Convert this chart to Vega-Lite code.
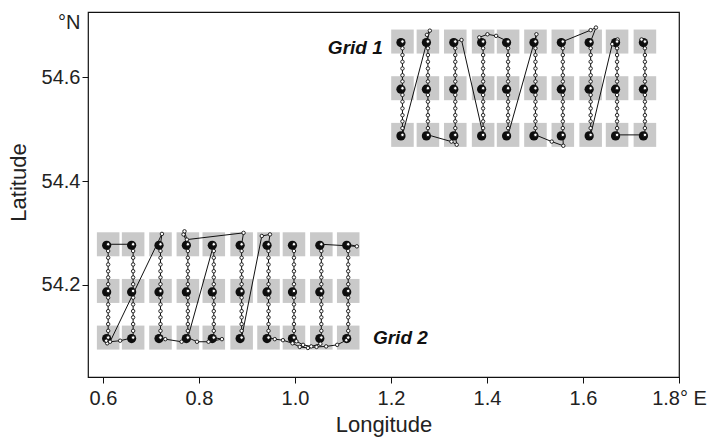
{
"$schema": "https://vega.github.io/schema/vega-lite/v6.json",
"width": 591, "height": 365,
"autosize": {"type": "none"},
"padding": {"left": 88, "top": 12, "right": 28, "bottom": 62},
"background": "white",
"config": {
  "font": "Liberation Sans",
  "view": {"stroke": "#111", "strokeWidth": 1.2},
  "axis": {"labelFont": "Liberation Sans", "titleFont": "Liberation Sans", "labelFontSize": 20, "titleFontSize": 22, "titleFontWeight": "normal", "labelColor": "#222", "titleColor": "#222", "tickColor": "#111", "tickSize": 6, "tickWidth": 1, "domain": false, "grid": false, "labelFlush": false, "labelOverlap": false}
},
"datasets": {
"stations": [
{"lon":1.224,"lat":54.669},{"lon":1.277,"lat":54.669},{"lon":1.334,"lat":54.669},{"lon":1.392,"lat":54.669},{"lon":1.444,"lat":54.669},{"lon":1.501,"lat":54.669},{"lon":1.558,"lat":54.669},{"lon":1.616,"lat":54.669},{"lon":1.671,"lat":54.669},{"lon":1.729,"lat":54.669},
{"lon":1.224,"lat":54.579},{"lon":1.277,"lat":54.579},{"lon":1.334,"lat":54.579},{"lon":1.392,"lat":54.579},{"lon":1.444,"lat":54.579},{"lon":1.501,"lat":54.579},{"lon":1.558,"lat":54.579},{"lon":1.616,"lat":54.579},{"lon":1.671,"lat":54.579},{"lon":1.729,"lat":54.579},
{"lon":1.224,"lat":54.489},{"lon":1.277,"lat":54.489},{"lon":1.334,"lat":54.489},{"lon":1.392,"lat":54.489},{"lon":1.444,"lat":54.489},{"lon":1.501,"lat":54.489},{"lon":1.558,"lat":54.489},{"lon":1.616,"lat":54.489},{"lon":1.671,"lat":54.489},{"lon":1.729,"lat":54.489},
{"lon":0.611,"lat":54.278},{"lon":0.663,"lat":54.278},{"lon":0.720,"lat":54.278},{"lon":0.777,"lat":54.278},{"lon":0.831,"lat":54.278},{"lon":0.889,"lat":54.278},{"lon":0.945,"lat":54.278},{"lon":0.998,"lat":54.278},{"lon":1.055,"lat":54.278},{"lon":1.111,"lat":54.278},
{"lon":0.611,"lat":54.188},{"lon":0.663,"lat":54.188},{"lon":0.720,"lat":54.188},{"lon":0.777,"lat":54.188},{"lon":0.831,"lat":54.188},{"lon":0.889,"lat":54.188},{"lon":0.945,"lat":54.188},{"lon":0.998,"lat":54.188},{"lon":1.055,"lat":54.188},{"lon":1.111,"lat":54.188},
{"lon":0.611,"lat":54.098},{"lon":0.663,"lat":54.098},{"lon":0.720,"lat":54.098},{"lon":0.777,"lat":54.098},{"lon":0.831,"lat":54.098},{"lon":0.889,"lat":54.098},{"lon":0.945,"lat":54.098},{"lon":0.998,"lat":54.098},{"lon":1.055,"lat":54.098},{"lon":1.111,"lat":54.098}
],
"track": [
{"g":1,"i":1,"lon":1.224,"lat":54.669},{"g":1,"i":2,"lon":1.224,"lat":54.656},{"g":1,"i":3,"lon":1.224,"lat":54.643},{"g":1,"i":4,"lon":1.224,"lat":54.630},{"g":1,"i":5,"lon":1.224,"lat":54.617},{"g":1,"i":6,"lon":1.224,"lat":54.604},{"g":1,"i":7,"lon":1.224,"lat":54.592},{"g":1,"i":8,"lon":1.224,"lat":54.579},{"g":1,"i":9,"lon":1.224,"lat":54.566},{"g":1,"i":10,"lon":1.224,"lat":54.553},{"g":1,"i":11,"lon":1.224,"lat":54.540},{"g":1,"i":12,"lon":1.224,"lat":54.527},{"g":1,"i":13,"lon":1.224,"lat":54.515},{"g":1,"i":14,"lon":1.224,"lat":54.502},{"g":1,"i":15,"lon":1.224,"lat":54.489},
{"g":1,"i":16,"lon":1.281,"lat":54.690},{"g":1,"i":17,"lon":1.275,"lat":54.682},
{"g":1,"i":18,"lon":1.277,"lat":54.669},{"g":1,"i":19,"lon":1.277,"lat":54.656},{"g":1,"i":20,"lon":1.277,"lat":54.643},{"g":1,"i":21,"lon":1.277,"lat":54.630},{"g":1,"i":22,"lon":1.277,"lat":54.617},{"g":1,"i":23,"lon":1.277,"lat":54.604},{"g":1,"i":24,"lon":1.277,"lat":54.592},{"g":1,"i":25,"lon":1.277,"lat":54.579},{"g":1,"i":26,"lon":1.277,"lat":54.566},{"g":1,"i":27,"lon":1.277,"lat":54.553},{"g":1,"i":28,"lon":1.277,"lat":54.540},{"g":1,"i":29,"lon":1.277,"lat":54.527},{"g":1,"i":30,"lon":1.277,"lat":54.515},{"g":1,"i":31,"lon":1.277,"lat":54.502},{"g":1,"i":32,"lon":1.277,"lat":54.489},
{"g":1,"i":33,"lon":1.326,"lat":54.476},{"g":1,"i":34,"lon":1.337,"lat":54.470},
{"g":1,"i":35,"lon":1.334,"lat":54.489},{"g":1,"i":36,"lon":1.334,"lat":54.502},{"g":1,"i":37,"lon":1.334,"lat":54.515},{"g":1,"i":38,"lon":1.334,"lat":54.527},{"g":1,"i":39,"lon":1.334,"lat":54.540},{"g":1,"i":40,"lon":1.334,"lat":54.553},{"g":1,"i":41,"lon":1.334,"lat":54.566},{"g":1,"i":42,"lon":1.334,"lat":54.579},{"g":1,"i":43,"lon":1.334,"lat":54.592},{"g":1,"i":44,"lon":1.334,"lat":54.604},{"g":1,"i":45,"lon":1.334,"lat":54.617},{"g":1,"i":46,"lon":1.334,"lat":54.630},{"g":1,"i":47,"lon":1.334,"lat":54.643},{"g":1,"i":48,"lon":1.334,"lat":54.656},{"g":1,"i":49,"lon":1.334,"lat":54.669},
{"g":1,"i":50,"lon":1.347,"lat":54.672},
{"g":1,"i":51,"lon":1.392,"lat":54.489},{"g":1,"i":52,"lon":1.392,"lat":54.502},{"g":1,"i":53,"lon":1.392,"lat":54.515},{"g":1,"i":54,"lon":1.392,"lat":54.527},{"g":1,"i":55,"lon":1.392,"lat":54.540},{"g":1,"i":56,"lon":1.392,"lat":54.553},{"g":1,"i":57,"lon":1.392,"lat":54.566},{"g":1,"i":58,"lon":1.392,"lat":54.579},{"g":1,"i":59,"lon":1.392,"lat":54.592},{"g":1,"i":60,"lon":1.392,"lat":54.604},{"g":1,"i":61,"lon":1.392,"lat":54.617},{"g":1,"i":62,"lon":1.392,"lat":54.630},{"g":1,"i":63,"lon":1.392,"lat":54.643},{"g":1,"i":64,"lon":1.392,"lat":54.656},{"g":1,"i":65,"lon":1.392,"lat":54.669},
{"g":1,"i":66,"lon":1.384,"lat":54.677},{"g":1,"i":67,"lon":1.401,"lat":54.683},{"g":1,"i":68,"lon":1.419,"lat":54.680},
{"g":1,"i":69,"lon":1.444,"lat":54.669},{"g":1,"i":70,"lon":1.444,"lat":54.656},{"g":1,"i":71,"lon":1.444,"lat":54.643},{"g":1,"i":72,"lon":1.444,"lat":54.630},{"g":1,"i":73,"lon":1.444,"lat":54.617},{"g":1,"i":74,"lon":1.444,"lat":54.604},{"g":1,"i":75,"lon":1.444,"lat":54.592},{"g":1,"i":76,"lon":1.444,"lat":54.579},{"g":1,"i":77,"lon":1.444,"lat":54.566},{"g":1,"i":78,"lon":1.444,"lat":54.553},{"g":1,"i":79,"lon":1.444,"lat":54.540},{"g":1,"i":80,"lon":1.444,"lat":54.527},{"g":1,"i":81,"lon":1.444,"lat":54.515},{"g":1,"i":82,"lon":1.444,"lat":54.502},{"g":1,"i":83,"lon":1.444,"lat":54.489},
{"g":1,"i":84,"lon":1.503,"lat":54.683},
{"g":1,"i":85,"lon":1.501,"lat":54.669},{"g":1,"i":86,"lon":1.501,"lat":54.656},{"g":1,"i":87,"lon":1.501,"lat":54.643},{"g":1,"i":88,"lon":1.501,"lat":54.630},{"g":1,"i":89,"lon":1.501,"lat":54.617},{"g":1,"i":90,"lon":1.501,"lat":54.604},{"g":1,"i":91,"lon":1.501,"lat":54.592},{"g":1,"i":92,"lon":1.501,"lat":54.579},{"g":1,"i":93,"lon":1.501,"lat":54.566},{"g":1,"i":94,"lon":1.501,"lat":54.553},{"g":1,"i":95,"lon":1.501,"lat":54.540},{"g":1,"i":96,"lon":1.501,"lat":54.527},{"g":1,"i":97,"lon":1.501,"lat":54.515},{"g":1,"i":98,"lon":1.501,"lat":54.502},{"g":1,"i":99,"lon":1.501,"lat":54.489},
{"g":1,"i":100,"lon":1.535,"lat":54.476},{"g":1,"i":101,"lon":1.559,"lat":54.468},
{"g":1,"i":102,"lon":1.558,"lat":54.489},{"g":1,"i":103,"lon":1.558,"lat":54.502},{"g":1,"i":104,"lon":1.558,"lat":54.515},{"g":1,"i":105,"lon":1.558,"lat":54.527},{"g":1,"i":106,"lon":1.558,"lat":54.540},{"g":1,"i":107,"lon":1.558,"lat":54.553},{"g":1,"i":108,"lon":1.558,"lat":54.566},{"g":1,"i":109,"lon":1.558,"lat":54.579},{"g":1,"i":110,"lon":1.558,"lat":54.592},{"g":1,"i":111,"lon":1.558,"lat":54.604},{"g":1,"i":112,"lon":1.558,"lat":54.617},{"g":1,"i":113,"lon":1.558,"lat":54.630},{"g":1,"i":114,"lon":1.558,"lat":54.643},{"g":1,"i":115,"lon":1.558,"lat":54.656},{"g":1,"i":116,"lon":1.558,"lat":54.669},
{"g":1,"i":117,"lon":1.616,"lat":54.691},{"g":1,"i":118,"lon":1.627,"lat":54.696},
{"g":1,"i":119,"lon":1.616,"lat":54.669},{"g":1,"i":120,"lon":1.616,"lat":54.656},{"g":1,"i":121,"lon":1.616,"lat":54.643},{"g":1,"i":122,"lon":1.616,"lat":54.630},{"g":1,"i":123,"lon":1.616,"lat":54.617},{"g":1,"i":124,"lon":1.616,"lat":54.604},{"g":1,"i":125,"lon":1.616,"lat":54.592},{"g":1,"i":126,"lon":1.616,"lat":54.579},{"g":1,"i":127,"lon":1.616,"lat":54.566},{"g":1,"i":128,"lon":1.616,"lat":54.553},{"g":1,"i":129,"lon":1.616,"lat":54.540},{"g":1,"i":130,"lon":1.616,"lat":54.527},{"g":1,"i":131,"lon":1.616,"lat":54.515},{"g":1,"i":132,"lon":1.616,"lat":54.502},{"g":1,"i":133,"lon":1.616,"lat":54.489},
{"g":1,"i":134,"lon":1.661,"lat":54.664},{"g":1,"i":135,"lon":1.672,"lat":54.673},
{"g":1,"i":136,"lon":1.671,"lat":54.669},{"g":1,"i":137,"lon":1.671,"lat":54.656},{"g":1,"i":138,"lon":1.671,"lat":54.643},{"g":1,"i":139,"lon":1.671,"lat":54.630},{"g":1,"i":140,"lon":1.671,"lat":54.617},{"g":1,"i":141,"lon":1.671,"lat":54.604},{"g":1,"i":142,"lon":1.671,"lat":54.592},{"g":1,"i":143,"lon":1.671,"lat":54.579},{"g":1,"i":144,"lon":1.671,"lat":54.566},{"g":1,"i":145,"lon":1.671,"lat":54.553},{"g":1,"i":146,"lon":1.671,"lat":54.540},{"g":1,"i":147,"lon":1.671,"lat":54.527},{"g":1,"i":148,"lon":1.671,"lat":54.515},{"g":1,"i":149,"lon":1.671,"lat":54.502},{"g":1,"i":150,"lon":1.671,"lat":54.489},
{"g":1,"i":151,"lon":1.729,"lat":54.489},{"g":1,"i":152,"lon":1.729,"lat":54.502},{"g":1,"i":153,"lon":1.729,"lat":54.515},{"g":1,"i":154,"lon":1.729,"lat":54.527},{"g":1,"i":155,"lon":1.729,"lat":54.540},{"g":1,"i":156,"lon":1.729,"lat":54.553},{"g":1,"i":157,"lon":1.729,"lat":54.566},{"g":1,"i":158,"lon":1.729,"lat":54.579},{"g":1,"i":159,"lon":1.729,"lat":54.592},{"g":1,"i":160,"lon":1.729,"lat":54.604},{"g":1,"i":161,"lon":1.729,"lat":54.617},{"g":1,"i":162,"lon":1.729,"lat":54.630},{"g":1,"i":163,"lon":1.729,"lat":54.643},{"g":1,"i":164,"lon":1.729,"lat":54.656},{"g":1,"i":165,"lon":1.729,"lat":54.669},
{"g":1,"i":166,"lon":1.722,"lat":54.673},
{"g":2,"i":1,"lon":0.609,"lat":54.087},{"g":2,"i":2,"lon":0.607,"lat":54.092},
{"g":2,"i":3,"lon":0.611,"lat":54.098},{"g":2,"i":4,"lon":0.611,"lat":54.111},{"g":2,"i":5,"lon":0.611,"lat":54.124},{"g":2,"i":6,"lon":0.611,"lat":54.137},{"g":2,"i":7,"lon":0.611,"lat":54.149},{"g":2,"i":8,"lon":0.611,"lat":54.162},{"g":2,"i":9,"lon":0.611,"lat":54.175},{"g":2,"i":10,"lon":0.611,"lat":54.188},{"g":2,"i":11,"lon":0.611,"lat":54.201},{"g":2,"i":12,"lon":0.611,"lat":54.214},{"g":2,"i":13,"lon":0.611,"lat":54.226},{"g":2,"i":14,"lon":0.611,"lat":54.239},{"g":2,"i":15,"lon":0.611,"lat":54.252},{"g":2,"i":16,"lon":0.611,"lat":54.265},{"g":2,"i":17,"lon":0.611,"lat":54.278},
{"g":2,"i":18,"lon":0.663,"lat":54.278},{"g":2,"i":19,"lon":0.663,"lat":54.265},{"g":2,"i":20,"lon":0.663,"lat":54.252},{"g":2,"i":21,"lon":0.663,"lat":54.239},{"g":2,"i":22,"lon":0.663,"lat":54.226},{"g":2,"i":23,"lon":0.663,"lat":54.214},{"g":2,"i":24,"lon":0.663,"lat":54.201},{"g":2,"i":25,"lon":0.663,"lat":54.188},{"g":2,"i":26,"lon":0.663,"lat":54.175},{"g":2,"i":27,"lon":0.663,"lat":54.162},{"g":2,"i":28,"lon":0.663,"lat":54.149},{"g":2,"i":29,"lon":0.663,"lat":54.137},{"g":2,"i":30,"lon":0.663,"lat":54.124},{"g":2,"i":31,"lon":0.663,"lat":54.111},{"g":2,"i":32,"lon":0.663,"lat":54.098},
{"g":2,"i":33,"lon":0.636,"lat":54.092},{"g":2,"i":34,"lon":0.615,"lat":54.090},{"g":2,"i":35,"lon":0.723,"lat":54.298},
{"g":2,"i":36,"lon":0.720,"lat":54.278},{"g":2,"i":37,"lon":0.720,"lat":54.265},{"g":2,"i":38,"lon":0.720,"lat":54.252},{"g":2,"i":39,"lon":0.720,"lat":54.239},{"g":2,"i":40,"lon":0.720,"lat":54.226},{"g":2,"i":41,"lon":0.720,"lat":54.214},{"g":2,"i":42,"lon":0.720,"lat":54.201},{"g":2,"i":43,"lon":0.720,"lat":54.188},{"g":2,"i":44,"lon":0.720,"lat":54.175},{"g":2,"i":45,"lon":0.720,"lat":54.162},{"g":2,"i":46,"lon":0.720,"lat":54.149},{"g":2,"i":47,"lon":0.720,"lat":54.137},{"g":2,"i":48,"lon":0.720,"lat":54.124},{"g":2,"i":49,"lon":0.720,"lat":54.111},{"g":2,"i":50,"lon":0.720,"lat":54.098},
{"g":2,"i":51,"lon":0.730,"lat":54.095},{"g":2,"i":52,"lon":0.764,"lat":54.090},{"g":2,"i":53,"lon":0.777,"lat":54.098},{"g":2,"i":54,"lon":0.796,"lat":54.090},{"g":2,"i":55,"lon":0.820,"lat":54.090},{"g":2,"i":56,"lon":0.848,"lat":54.095},
{"g":2,"i":57,"lon":0.831,"lat":54.098},{"g":2,"i":58,"lon":0.831,"lat":54.111},{"g":2,"i":59,"lon":0.831,"lat":54.124},{"g":2,"i":60,"lon":0.831,"lat":54.137},{"g":2,"i":61,"lon":0.831,"lat":54.149},{"g":2,"i":62,"lon":0.831,"lat":54.162},{"g":2,"i":63,"lon":0.831,"lat":54.175},{"g":2,"i":64,"lon":0.831,"lat":54.188},{"g":2,"i":65,"lon":0.831,"lat":54.201},{"g":2,"i":66,"lon":0.831,"lat":54.214},{"g":2,"i":67,"lon":0.831,"lat":54.226},{"g":2,"i":68,"lon":0.831,"lat":54.239},{"g":2,"i":69,"lon":0.831,"lat":54.252},{"g":2,"i":70,"lon":0.831,"lat":54.265},{"g":2,"i":71,"lon":0.831,"lat":54.278},
{"g":2,"i":72,"lon":0.777,"lat":54.098},{"g":2,"i":73,"lon":0.777,"lat":54.111},{"g":2,"i":74,"lon":0.777,"lat":54.124},{"g":2,"i":75,"lon":0.777,"lat":54.137},{"g":2,"i":76,"lon":0.777,"lat":54.149},{"g":2,"i":77,"lon":0.777,"lat":54.162},{"g":2,"i":78,"lon":0.777,"lat":54.175},{"g":2,"i":79,"lon":0.777,"lat":54.188},{"g":2,"i":80,"lon":0.777,"lat":54.201},{"g":2,"i":81,"lon":0.777,"lat":54.214},{"g":2,"i":82,"lon":0.777,"lat":54.226},{"g":2,"i":83,"lon":0.777,"lat":54.239},{"g":2,"i":84,"lon":0.777,"lat":54.252},{"g":2,"i":85,"lon":0.777,"lat":54.265},{"g":2,"i":86,"lon":0.777,"lat":54.278},
{"g":2,"i":87,"lon":0.768,"lat":54.297},{"g":2,"i":88,"lon":0.770,"lat":54.303},{"g":2,"i":89,"lon":0.775,"lat":54.287},{"g":2,"i":90,"lon":0.893,"lat":54.300},
{"g":2,"i":91,"lon":0.889,"lat":54.278},{"g":2,"i":92,"lon":0.889,"lat":54.265},{"g":2,"i":93,"lon":0.889,"lat":54.252},{"g":2,"i":94,"lon":0.889,"lat":54.239},{"g":2,"i":95,"lon":0.889,"lat":54.226},{"g":2,"i":96,"lon":0.889,"lat":54.214},{"g":2,"i":97,"lon":0.889,"lat":54.201},{"g":2,"i":98,"lon":0.889,"lat":54.188},{"g":2,"i":99,"lon":0.889,"lat":54.175},{"g":2,"i":100,"lon":0.889,"lat":54.162},{"g":2,"i":101,"lon":0.889,"lat":54.149},{"g":2,"i":102,"lon":0.889,"lat":54.137},{"g":2,"i":103,"lon":0.889,"lat":54.124},{"g":2,"i":104,"lon":0.889,"lat":54.111},{"g":2,"i":105,"lon":0.889,"lat":54.098},
{"g":2,"i":106,"lon":0.931,"lat":54.294},{"g":2,"i":107,"lon":0.948,"lat":54.297},
{"g":2,"i":108,"lon":0.945,"lat":54.278},{"g":2,"i":109,"lon":0.945,"lat":54.265},{"g":2,"i":110,"lon":0.945,"lat":54.252},{"g":2,"i":111,"lon":0.945,"lat":54.239},{"g":2,"i":112,"lon":0.945,"lat":54.226},{"g":2,"i":113,"lon":0.945,"lat":54.214},{"g":2,"i":114,"lon":0.945,"lat":54.201},{"g":2,"i":115,"lon":0.945,"lat":54.188},{"g":2,"i":116,"lon":0.945,"lat":54.175},{"g":2,"i":117,"lon":0.945,"lat":54.162},{"g":2,"i":118,"lon":0.945,"lat":54.149},{"g":2,"i":119,"lon":0.945,"lat":54.137},{"g":2,"i":120,"lon":0.945,"lat":54.124},{"g":2,"i":121,"lon":0.945,"lat":54.111},{"g":2,"i":122,"lon":0.945,"lat":54.098},
{"g":2,"i":123,"lon":0.958,"lat":54.095},{"g":2,"i":124,"lon":0.975,"lat":54.093},{"g":2,"i":125,"lon":0.995,"lat":54.087},{"g":2,"i":126,"lon":1.010,"lat":54.080},{"g":2,"i":127,"lon":1.027,"lat":54.078},{"g":2,"i":128,"lon":1.045,"lat":54.080},{"g":2,"i":129,"lon":1.065,"lat":54.081},{"g":2,"i":130,"lon":1.088,"lat":54.084},{"g":2,"i":131,"lon":1.107,"lat":54.093},
{"g":2,"i":132,"lon":1.111,"lat":54.098},{"g":2,"i":133,"lon":1.111,"lat":54.111},{"g":2,"i":134,"lon":1.111,"lat":54.124},{"g":2,"i":135,"lon":1.111,"lat":54.137},{"g":2,"i":136,"lon":1.111,"lat":54.149},{"g":2,"i":137,"lon":1.111,"lat":54.162},{"g":2,"i":138,"lon":1.111,"lat":54.175},{"g":2,"i":139,"lon":1.111,"lat":54.188},{"g":2,"i":140,"lon":1.111,"lat":54.201},{"g":2,"i":141,"lon":1.111,"lat":54.214},{"g":2,"i":142,"lon":1.111,"lat":54.226},{"g":2,"i":143,"lon":1.111,"lat":54.239},{"g":2,"i":144,"lon":1.111,"lat":54.252},{"g":2,"i":145,"lon":1.111,"lat":54.265},{"g":2,"i":146,"lon":1.111,"lat":54.278},
{"g":2,"i":147,"lon":1.129,"lat":54.274},
{"g":2,"i":148,"lon":1.055,"lat":54.278},{"g":2,"i":149,"lon":1.055,"lat":54.265},{"g":2,"i":150,"lon":1.055,"lat":54.252},{"g":2,"i":151,"lon":1.055,"lat":54.239},{"g":2,"i":152,"lon":1.055,"lat":54.226},{"g":2,"i":153,"lon":1.055,"lat":54.214},{"g":2,"i":154,"lon":1.055,"lat":54.201},{"g":2,"i":155,"lon":1.055,"lat":54.188},{"g":2,"i":156,"lon":1.055,"lat":54.175},{"g":2,"i":157,"lon":1.055,"lat":54.162},{"g":2,"i":158,"lon":1.055,"lat":54.149},{"g":2,"i":159,"lon":1.055,"lat":54.137},{"g":2,"i":160,"lon":1.055,"lat":54.124},{"g":2,"i":161,"lon":1.055,"lat":54.111},{"g":2,"i":162,"lon":1.055,"lat":54.098},
{"g":2,"i":163,"lon":1.053,"lat":54.086},{"g":2,"i":164,"lon":1.034,"lat":54.081},{"g":2,"i":165,"lon":1.017,"lat":54.084},{"g":2,"i":166,"lon":1.003,"lat":54.091},
{"g":2,"i":167,"lon":0.998,"lat":54.098},{"g":2,"i":168,"lon":0.998,"lat":54.111},{"g":2,"i":169,"lon":0.998,"lat":54.124},{"g":2,"i":170,"lon":0.998,"lat":54.137},{"g":2,"i":171,"lon":0.998,"lat":54.149},{"g":2,"i":172,"lon":0.998,"lat":54.162},{"g":2,"i":173,"lon":0.998,"lat":54.175},{"g":2,"i":174,"lon":0.998,"lat":54.188},{"g":2,"i":175,"lon":0.998,"lat":54.201},{"g":2,"i":176,"lon":0.998,"lat":54.214},{"g":2,"i":177,"lon":0.998,"lat":54.226},{"g":2,"i":178,"lon":0.998,"lat":54.239},{"g":2,"i":179,"lon":0.998,"lat":54.252},{"g":2,"i":180,"lon":0.998,"lat":54.265},{"g":2,"i":181,"lon":0.998,"lat":54.278}
]
},
"encoding": {
  "x": {"field": "lon", "type": "quantitative", "scale": {"domain": [0.569, 1.8], "nice": false, "zero": false},
        "axis": {"title": "Longitude", "values": [0.6, 0.8, 1.0, 1.2, 1.4, 1.6, 1.8], "labelExpr": "datum.value > 1.75 ? '1.8° E' : format(datum.value, '.1f')", "labelPadding": 5, "titlePadding": 6}},
  "y": {"field": "lat", "type": "quantitative", "scale": {"domain": [54.022, 54.726], "nice": false, "zero": false},
        "axis": {"title": "Latitude", "values": [54.2, 54.4, 54.6, 54.706], "labelExpr": "datum.value > 54.65 ? '°N' : format(datum.value, '.1f')", "labelPadding": 2, "titlePadding": 11, "titleY": 170,
                 "tickOpacity": {"condition": {"test": "datum.value > 54.65", "value": 0}, "value": 1}}}
},
"layer": [
  {"data": {"name": "stations"}, "mark": {"type": "point", "shape": "M-0.94,-1H0.94V1H-0.94Z", "filled": true, "size": 576, "color": "#c9c9c9", "opacity": 1, "strokeWidth": 0}},
  {"data": {"name": "stations"}, "mark": {"type": "circle", "size": 85, "color": "#0d0d0d", "opacity": 1, "xOffset": -1.5, "yOffset": 1}},
  {"data": {"name": "track"}, "mark": {"type": "line", "color": "#111", "strokeWidth": 1}, "encoding": {"detail": {"field": "g"}, "order": {"field": "i", "type": "quantitative"}}},
  {"data": {"name": "track"}, "mark": {"type": "point", "shape": "circle", "filled": true, "fill": "white", "stroke": "#111", "strokeWidth": 0.9, "size": 12, "opacity": 1}},
  {"data": {"values": [{"label": "Grid 1", "lon": 1.183, "lat": 54.645}]}, "mark": {"type": "text", "align": "right", "baseline": "alphabetic", "font": "Liberation Sans", "fontSize": 19, "fontWeight": "bold", "fontStyle": "italic", "color": "#111"}, "encoding": {"text": {"field": "label"}}},
  {"data": {"values": [{"label": "Grid 2", "lon": 1.1625, "lat": 54.085}]}, "mark": {"type": "text", "align": "left", "baseline": "alphabetic", "font": "Liberation Sans", "fontSize": 19, "fontWeight": "bold", "fontStyle": "italic", "color": "#111"}, "encoding": {"text": {"field": "label"}}}
]
}
